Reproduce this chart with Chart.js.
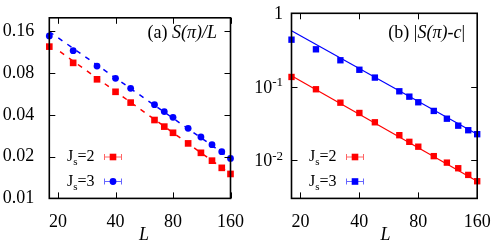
<!DOCTYPE html>
<html>
<head>
<meta charset="utf-8">
<script src="https://cdn.jsdelivr.net/npm/chart.js@4.4.1/dist/chart.umd.min.js"></script>
<style>
  html, body { margin: 0; padding: 0; background: #fff; }
  #wrap { position: relative; width: 498px; height: 249px; }
  .panel { position: absolute; top: 0; width: 249px; height: 249px; }
</style>
</head>
<body>
<div id="wrap">
  <div class="panel" style="left:0"><canvas id="panelA" width="249" height="249"></canvas></div>
  <div class="panel" style="left:249px"><canvas id="panelB" width="249" height="249"></canvas></div>
</div>
<script>
// system sizes L
const sizes = [18, 24, 32, 40, 48, 64, 72, 80, 96, 112, 128, 144, 160];

// (a) S(pi)/L
const spiA_js2 = [0.124, 0.0947, 0.0721, 0.0586, 0.0490, 0.0367, 0.0329, 0.0297, 0.0249, 0.0213, 0.0187, 0.0166, 0.0150];
const spiA_js3 = [0.148, 0.116, 0.0898, 0.0733, 0.0621, 0.0473, 0.0422, 0.0384, 0.0320, 0.0277, 0.0244, 0.0217, 0.0194];
// dashed fits (end points)
const fitA_js2_L = [20.5, 160];
const fitA_js2 = [0.114, 0.0150];
const fitA_js3_L = [18, 160];
const fitA_js3 = [0.159, 0.0194];

// (b) |S(pi)-c|
const spiB_js2 = [0.1356, 0.0922, 0.0605, 0.0438, 0.0327, 0.0218, 0.0177, 0.0152, 0.0113, 0.00922, 0.00773, 0.00627, 0.00514];
const spiB_js3 = [0.437, 0.323, 0.229, 0.170, 0.133, 0.0865, 0.0731, 0.0613, 0.0467, 0.0366, 0.0294, 0.0255, 0.0225];
const fitB_L = [18, 160];
const fitB_js2 = [0.141, 0.00514];
const fitB_js3 = [0.579, 0.0225];

// ticks
const xTicks = [20, 40, 80, 160];
const xTickLabels = ["20", "40", "80", "160"];
const yTicksA = [0.01, 0.02, 0.04, 0.08, 0.16];
const yTickLabelsA = ["0.01", "0.02", "0.04", "0.08", "0.16"];
const yTicksB = [0.01, 0.1, 1];
const yTickBaseB = ["10", "10", "1"];
const yTickExpB = ["-2", "-1", ""];

const RED = "#ff0000";
const BLUE = "#0000ff";
const SERIF = '"Liberation Serif", "Times New Roman", serif';

function pts(xs, ys) {
  return xs.map((x, i) => ({ x: x, y: ys[i] }));
}

function pointSet(data, color, style, radius) {
  return {
    data: data,
    showLine: false,
    pointStyle: style,
    pointRadius: radius,
    pointBackgroundColor: color,
    pointBorderWidth: 0,
    clip: false,
    order: 1,
  };
}

function fitSet(data, color, dash) {
  return {
    data: data,
    showLine: true,
    borderColor: color,
    borderWidth: dash ? 1.5 : 1.2,
    borderDash: dash || [],
    pointRadius: 0,
    order: 2,
  };
}

// draws frame, inner ticks, texts and legend
const decorPlugin = {
  id: "decor",
  afterDraw(chart, args, o) {
    const { ctx, chartArea: a, scales } = chart;
    ctx.save();

    // ticks on all four sides
    ctx.strokeStyle = "#000";
    ctx.lineWidth = 1;
    ctx.beginPath();
    xTicks.forEach((v) => {
      const px = Math.round(scales.x.getPixelForValue(v)) + 0.5;
      ctx.moveTo(px, a.bottom); ctx.lineTo(px, a.bottom - 6);
      ctx.moveTo(px, a.top); ctx.lineTo(px, a.top + 6);
    });
    o.yTicks.forEach((v) => {
      const py = Math.round(scales.y.getPixelForValue(v)) + 0.5;
      ctx.moveTo(a.left, py); ctx.lineTo(a.left + 6, py);
      ctx.moveTo(a.right, py); ctx.lineTo(a.right - 6, py);
    });
    ctx.stroke();

    ctx.lineWidth = 1.6;
    ctx.strokeRect(a.left, a.top, a.right - a.left, a.bottom - a.top);

    ctx.fillStyle = "#000";
    ctx.textBaseline = "alphabetic";

    // superscript y labels (panel b)
    if (o.expLabels) {
      o.yTicks.forEach((v, i) => {
        const py = scales.y.getPixelForValue(v);
        ctx.font = "13px " + SERIF;
        const ew = ctx.measureText(yTickExpB[i]).width;
        ctx.textAlign = "right";
        ctx.fillText(yTickExpB[i], o.labelRight, py - 0.5);
        ctx.font = "18px " + SERIF;
        ctx.fillText(yTickBaseB[i], o.labelRight - ew, py + 6);
      });
    }

    // panel title, right aligned
    let x = o.titleRight;
    ctx.textAlign = "left";
    for (let i = o.title.length - 1; i >= 0; i--) {
      const part = o.title[i];
      ctx.font = (part.it ? "italic " : "") + "18px " + SERIF;
      x -= ctx.measureText(part.t).width;
      ctx.fillText(part.t, x, o.titleY);
    }

    // x axis title
    ctx.font = "italic 18px " + SERIF;
    ctx.textAlign = "center";
    ctx.fillText("L", o.xTitleX, 240);

    // legend
    o.legend.forEach((item, i) => {
      const by = item.y;
      ctx.textAlign = "left";
      ctx.font = "16px " + SERIF;
      ctx.fillText("J", o.legendX, by + 4.5);
      let lx = o.legendX + ctx.measureText("J").width;
      ctx.font = "11px " + SERIF;
      ctx.fillText("s", lx, by + 8.5);
      lx += ctx.measureText("s").width;
      ctx.font = "16px " + SERIF;
      ctx.fillText("=" + item.js, lx, by + 4.5);

      const cx = o.symbolX;
      ctx.strokeStyle = item.color;
      ctx.globalAlpha = 0.6;
      ctx.lineWidth = 1;
      ctx.beginPath();
      ctx.moveTo(cx - 8, by + 0.5); ctx.lineTo(cx + 8, by + 0.5);
      ctx.moveTo(cx - 8.5, by - 2.5); ctx.lineTo(cx - 8.5, by + 3.5);
      ctx.moveTo(cx + 8.5, by - 2.5); ctx.lineTo(cx + 8.5, by + 3.5);
      ctx.stroke();
      ctx.globalAlpha = 1;
      ctx.fillStyle = item.color;
      if (item.style === "circle") {
        ctx.beginPath();
        ctx.arc(cx, by + 0.5, 3.4, 0, Math.PI * 2);
        ctx.fill();
      } else {
        ctx.fillRect(cx - 3.3, by - 2.8, 6.6, 6.6);
      }
      ctx.fillStyle = "#000";
    });

    ctx.restore();
  },
};

function makePanel(canvasId, datasets, yMin, yMax, yTicks, axisWidth, padRight, decor, yLabels) {
  const canvas = document.getElementById(canvasId);
  if (!canvas) return null;
  const ctx = canvas.getContext("2d");

  return new Chart(ctx, {
    type: "scatter",
    data: { datasets: datasets },
    plugins: [decorPlugin],
    options: {
      responsive: false,
      animation: false,
      devicePixelRatio: 1,
      layout: { padding: { left: 0, top: 13.3, right: padRight, bottom: 0 } },
      scales: {
        x: {
          type: "logarithmic",
          min: 18,
          max: 160,
          grid: { display: false },
          border: { display: false },
          afterBuildTicks: (s) => { s.ticks = xTicks.map((v) => ({ value: v })); },
          afterFit: (s) => { s.height = 50.6; },
          ticks: {
            color: "#000",
            padding: 5,
            maxRotation: 0,
            autoSkip: false,
            font: { family: SERIF, size: 18 },
            callback: (v, i) => xTickLabels[i],
          },
        },
        y: {
          type: "logarithmic",
          min: yMin,
          max: yMax,
          grid: { display: false },
          border: { display: false },
          afterBuildTicks: (s) => { s.ticks = yTicks.map((v) => ({ value: v })); },
          afterFit: (s) => { s.width = axisWidth; },
          ticks: {
            display: !!yLabels,
            color: "#000",
            padding: 7,
            autoSkip: false,
            font: { family: SERIF, size: 18 },
            callback: (v, i) => (yLabels ? yLabels[i] : ""),
          },
        },
      },
      plugins: {
        legend: { display: false },
        tooltip: { enabled: false },
        decor: decor,
      },
    },
  });
}

makePanel(
  "panelA",
  [
    pointSet(pts(sizes, spiA_js2), RED, "rect", 4.7),
    pointSet(pts(sizes, spiA_js3), BLUE, "circle", 3.4),
    fitSet(pts(fitA_js2_L, fitA_js2), RED, [5, 6]),
    fitSet(pts(fitA_js3_L, fitA_js3), BLUE, [5, 6]),
  ],
  0.01, 0.2, yTicksA, 49.3, 13.7,
  {
    yTicks: yTicksA,
    expLabels: false,
    title: [{ t: "(a) ", it: false }, { t: "S(π)/L", it: true }],
    titleRight: 217,
    titleY: 38,
    xTitleX: 144,
    legendX: 67,
    symbolX: 113,
    legend: [
      { js: "2", color: RED, style: "rect", y: 156.5 },
      { js: "3", color: BLUE, style: "circle", y: 181 },
    ],
  },
  yTickLabelsA
);

makePanel(
  "panelB",
  [
    pointSet(pts(sizes, spiB_js2), RED, "rect", 4.5),
    pointSet(pts(sizes, spiB_js3), BLUE, "rect", 4.5),
    fitSet(pts(fitB_L, fitB_js2), RED, null),
    fitSet(pts(fitB_L, fitB_js3), BLUE, null),
  ],
  0.003, 1, yTicksB, 42.5, 20.8,
  {
    yTicks: yTicksB,
    expLabels: true,
    labelRight: 34,
    title: [{ t: "(b) |", it: false }, { t: "S(π)-c", it: true }, { t: "|", it: false }],
    titleRight: 216,
    titleY: 38,
    xTitleX: 136.5,
    legendX: 60,
    symbolX: 106,
    legend: [
      { js: "2", color: RED, style: "rect", y: 156.5 },
      { js: "3", color: BLUE, style: "rect", y: 181 },
    ],
  },
  null
);
</script>
</body>
</html>
